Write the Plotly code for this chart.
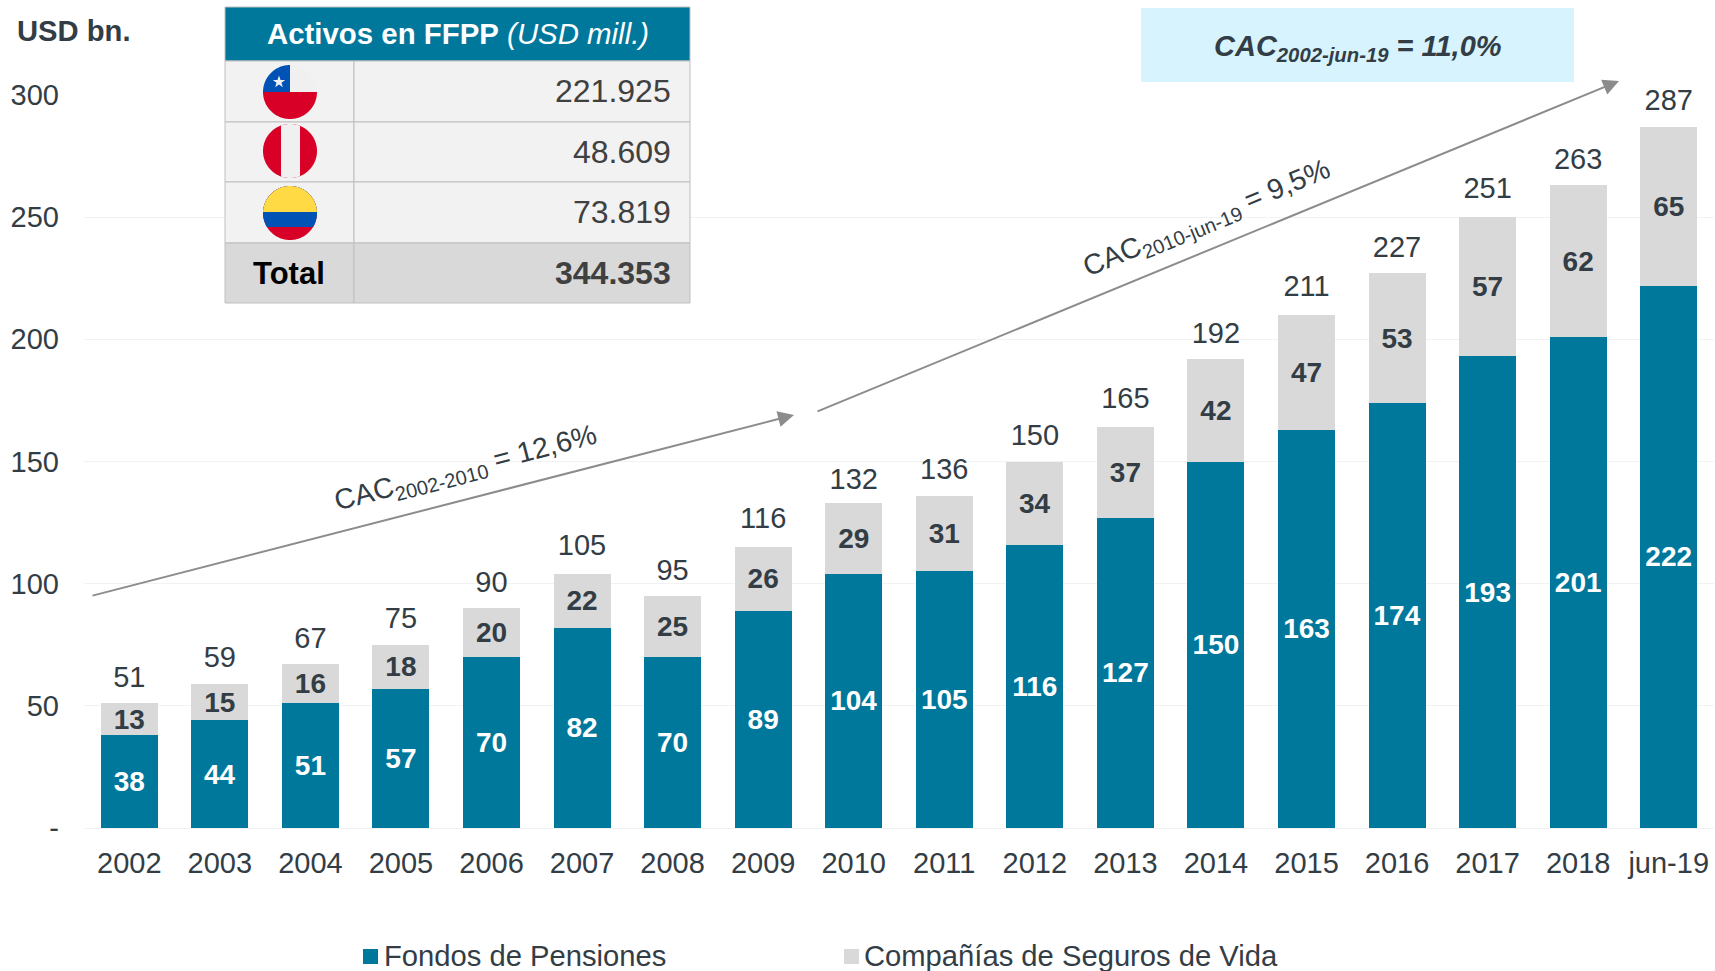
import math
import plotly.graph_objects as go

W, H = 1715, 971
ML, MR, MT, MB = 84, 1, 95, 143

categories = ["2002","2003","2004","2005","2006","2007","2008","2009","2010","2011","2012","2013","2014","2015","2016","2017","2018","jun-19"]
pension_funds = [38,44,51,57,70,82,70,89,104,105,116,127,150,163,174,193,201,222]
life_insurers = [13,15,16,18,20,22,25,26,29,31,34,37,42,47,53,57,62,65]
totals = [51,59,67,75,90,105,95,116,132,136,150,165,192,211,227,251,263,287]
y_ticks = [0,50,100,150,200,250,300]
y_tick_labels = ["-","50","100","150","200","250","300"]
table_values = ["221.925","48.609","73.819"]
table_total = "344.353"
series_names = ["Fondos de Pensiones", "Compañías de Seguros de Vida"]

TEAL = "#00789C"
GREY = "#D9D9D9"
INK = "#333D45"
FONT = "Liberation Sans"


def px(x):
    return (x - ML) / (W - ML - MR)


def py(y):
    return 1 - (y - MT) / (H - MT - MB)


def rect(x0, y0, x1, y1, fill, line=None):
    return dict(type="rect", xref="paper", yref="paper", x0=px(x0), x1=px(x1), y0=py(y0), y1=py(y1),
                fillcolor=fill, line=dict(color=line or fill, width=1 if line else 0))


def poly(points, fill):
    path = "M" + "L".join(f"{px(a):.5f},{py(b):.5f}" for a, b in points) + "Z"
    return dict(type="path", xref="paper", yref="paper", path=path, fillcolor=fill, line=dict(width=0))


def disc_part(cx, cy, r, x0, x1, y0, y1, fill):
    pts = []
    for i in range(240):
        t = 2 * math.pi * i / 240
        a = min(max(cx + r * math.cos(t), x0), x1)
        b = min(max(cy + r * math.sin(t), y0), y1)
        pts.append((a, b))
    return poly(pts, fill)


def text(x, y, s, size=29, color=INK, anchor="center", angle=0):
    return dict(xref="paper", yref="paper", x=px(x), y=py(y), text=s, showarrow=False, xanchor=anchor,
                yanchor="middle", textangle=angle, font=dict(family=FONT, size=size, color=color))


def arrow(x0, y0, x1, y1):
    return dict(xref="paper", yref="paper", x=px(x1), y=py(y1), axref="pixel", ayref="pixel",
                ax=x0 - x1, ay=y0 - y1, text="", showarrow=True, arrowhead=2, arrowsize=1.6,
                arrowwidth=2, arrowcolor="#8C8C8C", standoff=0)


fig = go.Figure()
fig.add_bar(name=series_names[0], x=categories, y=pension_funds, marker=dict(color=TEAL, line=dict(width=0)),
            text=pension_funds, textposition="inside", insidetextanchor="middle", textangle=0, constraintext="none",
            insidetextfont=dict(family=FONT, size=28, color="white", weight="bold"), showlegend=False)
fig.add_bar(name=series_names[1], x=categories, y=life_insurers, marker=dict(color=GREY, line=dict(width=0)),
            text=life_insurers, textposition="inside", insidetextanchor="middle", textangle=0, constraintext="none",
            insidetextfont=dict(family=FONT, size=28, color=INK, weight="bold"), showlegend=False)
fig.add_scatter(x=categories, y=totals, mode="markers+text", text=totals, textposition="top center", showlegend=False,
                marker=dict(size=13, opacity=0), textfont=dict(family=FONT, size=29, color=INK),
                cliponaxis=False, hoverinfo="skip")

# table
tx0, tx1, tdiv = 225, 690, 354
rows = [61, 122, 182, 243, 303]
BORDER = "#BFBFBF"
shapes = [rect(1141, 8, 1574, 82, "#D7F3FE"), rect(tx0, 7, tx1, 61, TEAL, BORDER)]
for i in range(4):
    fill = "#F2F2F2" if i < 3 else GREY
    shapes.append(rect(tx0, rows[i], tdiv, rows[i + 1], fill, BORDER))
    shapes.append(rect(tdiv, rows[i], tx1, rows[i + 1], fill, BORDER))

# flags
RED, BLUE, YEL, WHT = "#D80027", "#0052B4", "#FFDA44", "#F0F0F0"
cx, r = 290, 27
cy = 92
shapes += [disc_part(cx, cy, r, cx - r, cx + r, cy - r, cy + r, WHT),
           disc_part(cx, cy, r, cx - r, cx + r, cy, cy + r, RED),
           disc_part(cx, cy, r, cx - r, cx, cy - r, cy, BLUE)]
star = []
for i in range(10):
    t = -math.pi / 2 + i * math.pi / 5
    rad = 6.5 if i % 2 == 0 else 2.6
    star.append((279 + rad * math.cos(t), 82 + rad * math.sin(t)))
shapes.append(poly(star, WHT))
cy = 151
shapes += [disc_part(cx, cy, r, cx - r, cx + r, cy - r, cy + r, RED),
           disc_part(cx, cy, r, 281, 300, cy - r, cy + r, WHT)]
cy = 213
shapes += [disc_part(cx, cy, r, cx - r, cx + r, cy - r, cy + r, RED),
           disc_part(cx, cy, r, cx - r, cx + r, cy - r, 227, BLUE),
           disc_part(cx, cy, r, cx - r, cx + r, cy - r, 212, YEL)]

# legend keys
shapes += [rect(363, 949, 378, 964, TEAL), rect(844, 949, 859, 964, GREY)]

annotations = [
    text(458, 34, "<b>Activos en FFPP</b> <i>(USD mill.)</i>", size=29.4, color="white"),
    text(673, 91, table_values[0], size=32, color="#404040", anchor="right"),
    text(673, 152, table_values[1], size=32, color="#404040", anchor="right"),
    text(673, 212, table_values[2], size=32, color="#404040", anchor="right"),
    text(673, 273, f"<b>{table_total}</b>", size=32, color="#404040", anchor="right"),
    text(289, 273, "<b>Total</b>", size=31, color="black"),
    text(15, 31, "<b>USD bn.</b>", size=29.2, anchor="left"),
    text(1358, 48, "<b><i>CAC<sub>2002-jun-19</sub> = 11,0%</i></b>"),
    text(466, 469, "CAC<sub>2002-2010</sub> = 12,6%", size=28.6, angle=-14.5),
    text(1207, 219, "CAC<sub>2010-jun-19</sub> = 9,5%", size=28.5, angle=-22.4),
    text(382, 956, series_names[0], size=29.2, anchor="left"),
    text(862, 956, series_names[1], size=29.2, anchor="left"),
    arrow(91, 596, 794, 415),
    arrow(816, 412, 1619, 81),
]

fig.update_layout(
    width=W, height=H, margin=dict(l=ML, r=MR, t=MT, b=MB, autoexpand=False),
    paper_bgcolor="white", plot_bgcolor="white", barmode="stack", bargap=0.37,
    font=dict(family=FONT, size=29, color=INK), showlegend=False,
    xaxis=dict(type="category", range=[-0.5, 17.5], showgrid=False, showline=False, ticks="", ticklabelstandoff=15,
               automargin=False, tickfont=dict(family=FONT, size=29, color=INK), tickangle=0),
    yaxis=dict(range=[0, 300], tickvals=y_ticks, ticktext=y_tick_labels, gridcolor="#F2F2F2", gridwidth=1,
               zeroline=True, zerolinecolor="#F2F2F2", zerolinewidth=1, showline=False, ticks="",
               ticklabelstandoff=24, automargin=False, tickfont=dict(family=FONT, size=29, color=INK)),
    shapes=shapes, annotations=annotations,
)

fig.write_html("out.html", post_script="document.body.style.margin='0';", config=dict(displayModeBar=False))
